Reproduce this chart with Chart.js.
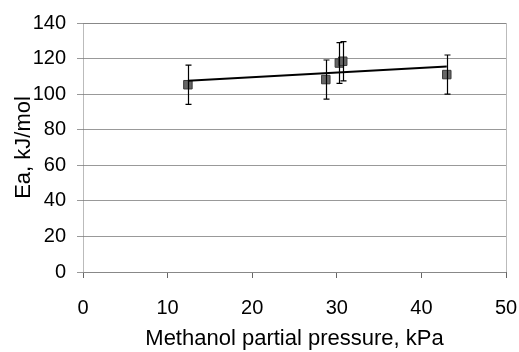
<!DOCTYPE html>
<html lang="en">
<head>
  <meta charset="UTF-8">
  <title>Ea vs methanol partial pressure</title>
  <script src="https://cdn.jsdelivr.net/npm/chart.js"></script>
  <style>
    html, body { margin: 0; padding: 0; background: #fff; }
    .wrap { width: 519px; height: 352px; }
  </style>
</head>
<body>
  <div class="wrap"><canvas id="eaChart" width="519" height="352"></canvas></div>

  <script>
    const pressure = [12.4, 28.7, 30.3, 30.7, 43.0];
    const ea       = [105.3, 108.2, 117.5, 118.5, 111.0];
    const eaError  = [11, 11, 11.5, 11, 11];
    // linear trend line end points
    const trendX = [12.4, 43.0];
    const trendY = [107.5, 115.5];
    const xTicks = [0, 10, 20, 30, 40, 50];
    const yTicks = [0, 20, 40, 60, 80, 100, 120, 140];

    const tickFont = { family: "'Liberation Sans', Arial, sans-serif", size: 20 };
    const titleFont = { family: "'Liberation Sans', Arial, sans-serif", size: 22 };

    // draws vertical error bars with little caps
    const errorBars = {
      id: 'errorBars',
      afterDatasetsDraw(chart) {
        const { ctx, scales: { x, y } } = chart;
        ctx.save();
        ctx.strokeStyle = '#000';
        ctx.lineWidth = 1.2;
        pressure.forEach((p, i) => {
          const px = Math.round(x.getPixelForValue(p)) + 0.5;
          const top = y.getPixelForValue(ea[i] + eaError[i]);
          const bot = y.getPixelForValue(ea[i] - eaError[i]);
          ctx.beginPath();
          ctx.moveTo(px, top); ctx.lineTo(px, bot);
          ctx.moveTo(px - 3, top); ctx.lineTo(px + 3, top);
          ctx.moveTo(px - 3, bot); ctx.lineTo(px + 3, bot);
          ctx.stroke();
        });
        ctx.restore();
      }
    };

    // dotted frame round the plot area
    const frame = {
      id: 'frame',
      beforeDatasetsDraw(chart) {
        const { ctx, chartArea: a } = chart;
        ctx.save();
        ctx.strokeStyle = '#777';
        ctx.lineWidth = 1;
        ctx.setLineDash([1, 1]);
        ctx.strokeRect(a.left + 0.5, a.top + 0.5, a.right - a.left, a.bottom - a.top);
        ctx.restore();
      }
    };

    new Chart(document.getElementById('eaChart'), {
      type: 'scatter',
      data: {
        datasets: [{
          type: 'line',
          data: trendX.map((v, i) => ({ x: v, y: trendY[i] })),
          borderColor: '#000',
          borderWidth: 2,
          pointRadius: 0,
          fill: false
        }, {
          data: pressure.map((v, i) => ({ x: v, y: ea[i] })),
          pointStyle: 'rect',
          pointRadius: 6,
          backgroundColor: '#666',
          borderColor: '#3a3a3a',
          borderWidth: 1
        }]
      },
      options: {
        responsive: false,
        animation: false,
        layout: { padding: { top: 22, right: 13, left: 0, bottom: 0 } },
        plugins: { legend: { display: false }, tooltip: { enabled: false } },
        scales: {
          x: {
            type: 'linear',
            min: 0, max: 50,
            afterFit(s) { s.height = 80; s.paddingRight = 0; s.paddingLeft = 0; },
            afterBuildTicks(s) { s.ticks = xTicks.map(v => ({ value: v })); },
            grid: { drawOnChartArea: false, color: '#666', tickLength: 6 },
            border: { display: false },
            ticks: { color: '#000', font: tickFont, padding: 18 },
            title: { display: true, text: 'Methanol partial pressure, kPa', color: '#000', font: titleFont, padding: { top: 0, bottom: 0 } }
          },
          y: {
            min: 0, max: 140,
            afterFit(s) { s.width = 83; },
            afterBuildTicks(s) { s.ticks = yTicks.map(v => ({ value: v })); },
            grid: { color: '#999', tickLength: 6 },
            border: { display: false },
            ticks: { color: '#000', font: tickFont, padding: 11 },
            title: { display: true, text: 'Ea, kJ/mol', color: '#000', font: titleFont, padding: { top: 11, bottom: 0 } }
          }
        }
      },
      plugins: [frame, errorBars]
    });
  </script>
</body>
</html>
